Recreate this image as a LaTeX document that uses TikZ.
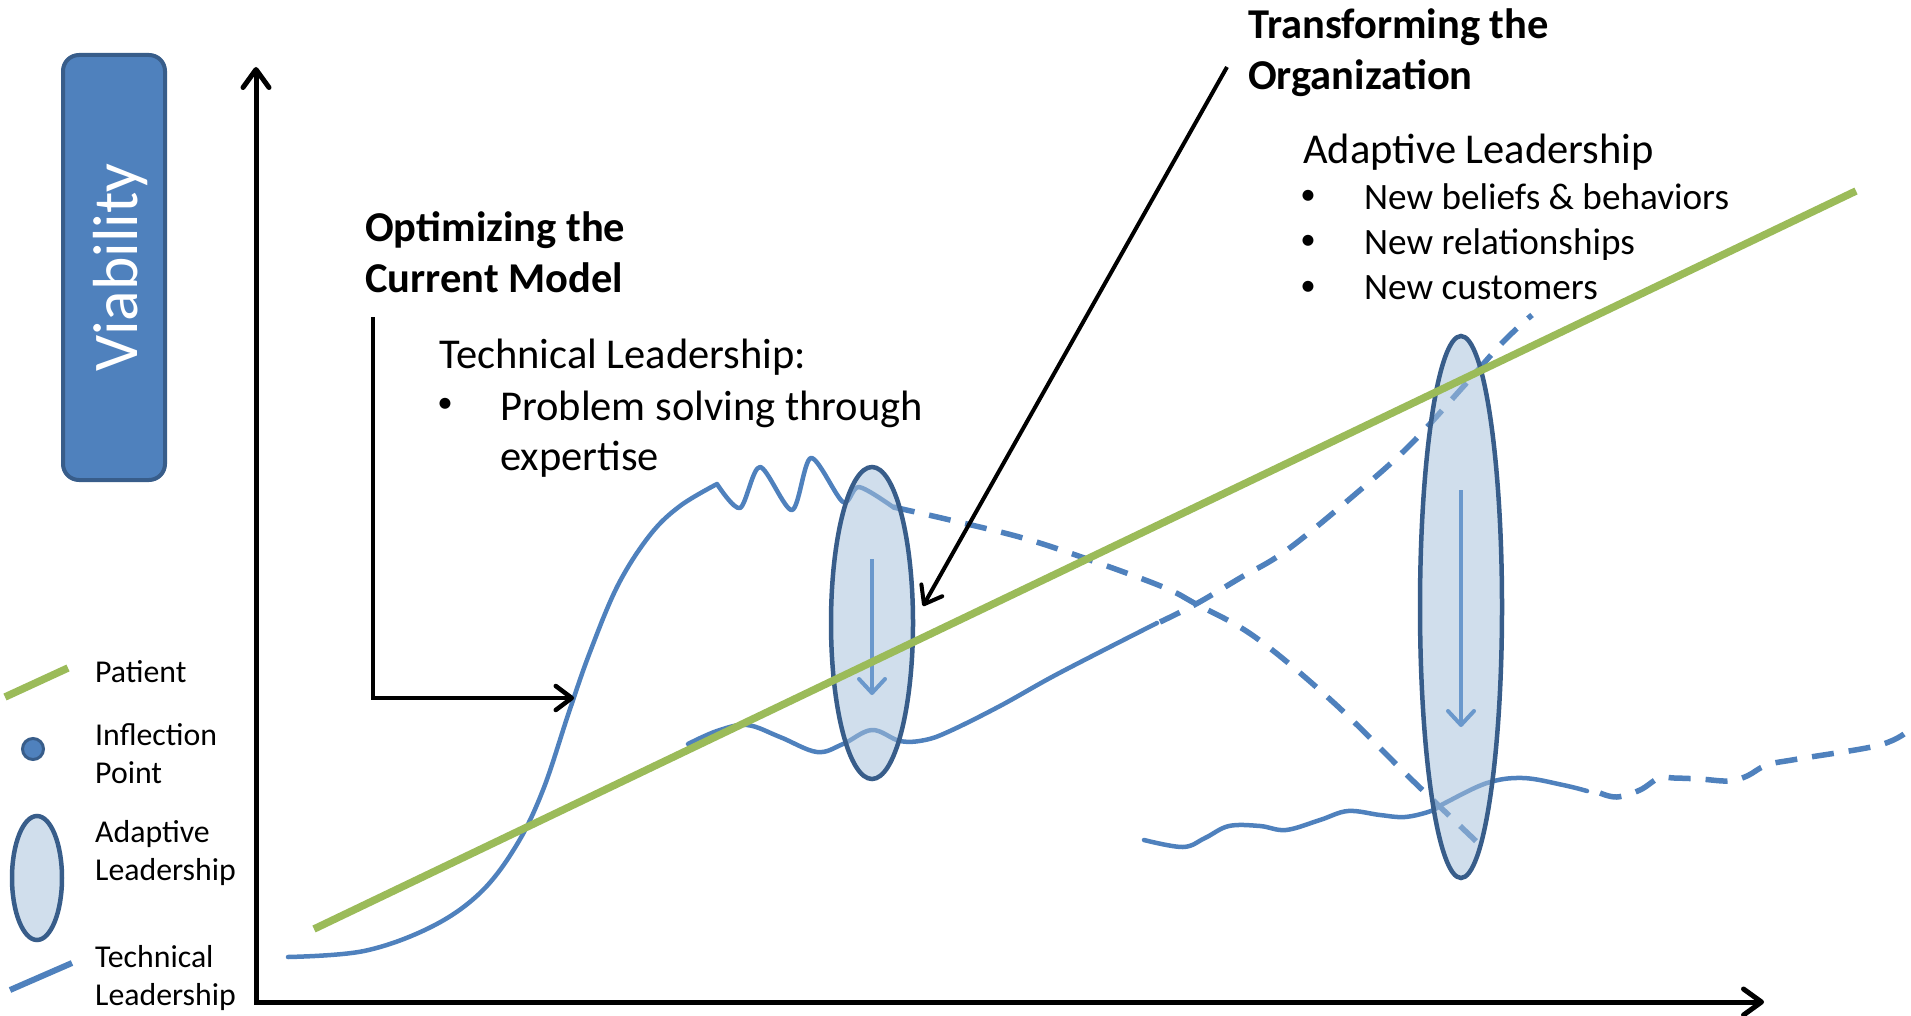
\documentclass[tikz,border=0pt]{standalone}
\usepackage{fontspec}
\setmainfont{Carlito}
\usetikzlibrary{arrows.meta}
\definecolor{techblue}{HTML}{4F81BD}
\definecolor{darkblue}{HTML}{385D8A}
\definecolor{patgreen}{HTML}{9BBB59}
\definecolor{ellfill}{HTML}{A7C1DB}
\definecolor{arrowblue}{HTML}{6A98CC}
\begin{document}
\begin{tikzpicture}[x=1pt,y=-1pt,
  tech/.style={draw=techblue,line width=4.5pt,line cap=round,line join=round},
  techdash/.style={draw=techblue,line width=5.5pt,dash pattern=on 22pt off 15pt,line join=round},
  patient/.style={draw=patgreen,line width=7.5pt},
  adapt/.style={draw=darkblue,line width=4.5pt,fill=ellfill,fill opacity=0.53},
  innerarrow/.style={draw=arrowblue,line width=4pt,-{Straight Barb[length=14pt,width=26pt,round]}},
  axisline/.style={line width=5pt,line join=miter,{Straight Barb[length=18pt,width=26pt,round]}-{Straight Barb[length=18pt,width=26pt,round]}},
  pointer/.style={line width=4.5pt,-{Straight Barb[length=16pt,width=24pt,round]}},
  lbl/.style={font=\fontsize{42.5}{51}\selectfont,inner sep=0pt,anchor=base west},
  sublbl/.style={font=\fontsize{37.2}{45}\selectfont,inner sep=0pt,anchor=base west},
  hdr/.style={font=\fontsize{42.5}{51}\selectfont\bfseries,inner sep=0pt,anchor=base west},
  bul/.style={font=\fontsize{31}{36}\selectfont,inner sep=0pt,anchor=base},
  leg/.style={font=\fontsize{31.8}{38}\selectfont,inner sep=0pt,anchor=base west}]
\useasboundingbox (0,0) rectangle (1911,1016);

% Viability box
\node (vbox) [draw=darkblue,fill=techblue,line width=4pt,rounded corners=16pt,minimum width=102pt,minimum height=425pt,inner sep=0pt] at (114,267.5) {};
\node (vtext) [rotate=90,anchor=base,text=white,inner sep=0pt,font=\fontsize{63.7}{70}\selectfont] at (137,267.5) {Viability};

% axes
\coordinate (ytop) at (256,67);
\coordinate (origin) at (256,1002);
\coordinate (xend) at (1764,1002);
\draw[axisline] (ytop) -- (origin) -- (xend);

% Technical leadership curve 1 (S-curve with wiggles)
\draw[tech] plot[smooth,tension=0.6] coordinates {(288,957) (364,951) (431,927) (480,893) (516,846) (543,790) (569,712) (590,652) (618,585) (650,535) (680,506) (717,484)}
  -- plot[smooth,tension=0.5] coordinates {(717,484) (740,508) (760,467) (792,510) (811,458) (843,502) (859,487) (893,507)};
\draw[techdash] plot[smooth,tension=0.6] coordinates {(893,507) (950,520) (1023,538) (1090,560) (1163,587) (1196,604) (1255,637) (1333,702) (1410,778) (1478,843)};

% Technical leadership curve 2
\draw[tech] plot[smooth,tension=0.6] coordinates {(688,744) (717,731) (747,725) (780,737) (817,752) (843,744) (872,730) (900,741) (925,740) (950,731) (1000,706) (1050,678) (1100,652) (1157,623)};
\draw[techdash] plot[smooth,tension=0.6] coordinates {(1160,622) (1196,604) (1240,578) (1287,550) (1359,491) (1410,445) (1462,388) (1503,342) (1532,315)};

% Technical leadership curve 3
\draw[tech] plot[smooth,tension=0.6] coordinates {(1144,840) (1183,847) (1205,838) (1229,826) (1260,826) (1286,830) (1320,820) (1348,811) (1380,815) (1405,817) (1431,811) (1445,803) (1487,783) (1523,778) (1563,785) (1587,791)};
\draw[techdash] plot[smooth,tension=0.6] coordinates {(1600,793) (1617,797) (1640,790) (1659,778) (1674,778) (1700,779) (1729,781) (1747,776) (1767,765) (1798,759) (1876,746) (1904,734)};

% Adaptive leadership ellipses
\draw[adapt] (872,623) ellipse [x radius=41pt,y radius=156pt];
\draw[adapt] (1461,607) ellipse [x radius=41pt,y radius=271pt];
\coordinate (a1s) at (872,559); \coordinate (a1e) at (872,695);
\coordinate (a2s) at (1461,490); \coordinate (a2e) at (1461,727);
\draw[innerarrow] (a1s) -- (a1e);
\draw[innerarrow] (a2s) -- (a2e);

% Patient line
\coordinate (p0) at (314,929); \coordinate (p1) at (1856,191);
\draw[patient] (p0) -- (p1);

% Headings and labels
\node[hdr] (opt1) at (365,242) {Optimizing the};
\node[hdr] (opt2) at (365,293) {Current Model};
\coordinate (el0) at (373,317); \coordinate (el1) at (574,698);
\draw[pointer,line join=miter] (el0) |- (el1);

\node[lbl] (tl0) at (439,368) {Technical Leadership:};
\node[bul] (tlb) at (445,412) {•};
\node[lbl] (tl1) at (500,420) {Problem solving through};
\node[lbl] (tl2) at (500,470) {expertise};

\node[hdr] (tr1) at (1248,39) {Transforming the};
\node[hdr] (tr2) at (1248,90) {Organization};
\coordinate (ta0) at (1227,67); \coordinate (ta1) at (923,606);
\draw[pointer,line width=4pt] (ta0) -- (ta1);

\node[lbl] (al0) at (1303,164) {Adaptive Leadership};
\node[bul] (alb1) at (1308,205) {•};
\node[sublbl] (al1) at (1364,210) {New beliefs \& behaviors};
\node[bul] (alb2) at (1308,250) {•};
\node[sublbl] (al2) at (1364,255) {New relationships};
\node[bul] (alb3) at (1308,295) {•};
\node[sublbl] (al3) at (1364,300) {New customers};

% Legend
\coordinate (lg0) at (5,697); \coordinate (lg1) at (68,668);
\draw[patient] (lg0) -- (lg1);
\node[leg] (lpat) at (95,682) {Patient};
\node (ldot) [circle,fill=techblue,draw=darkblue,line width=3pt,minimum size=21pt,inner sep=0pt] at (33,749) {};
\node[leg] (linf1) at (95,745) {Inflection};
\node[leg] (linf2) at (95,783) {Point};
\draw[adapt] (37,878) ellipse [x radius=25pt,y radius=62pt];
\node[leg] (lad1) at (95,842) {Adaptive};
\node[leg] (lad2) at (95,880) {Leadership};
\coordinate (lt0) at (10,990); \coordinate (lt1) at (72,963);
\draw[draw=techblue,line width=6pt] (lt0) -- (lt1);
\node[leg] (ltc1) at (95,967) {Technical};
\node[leg] (ltc2) at (95,1005) {Leadership};
\end{tikzpicture}
\end{document}
